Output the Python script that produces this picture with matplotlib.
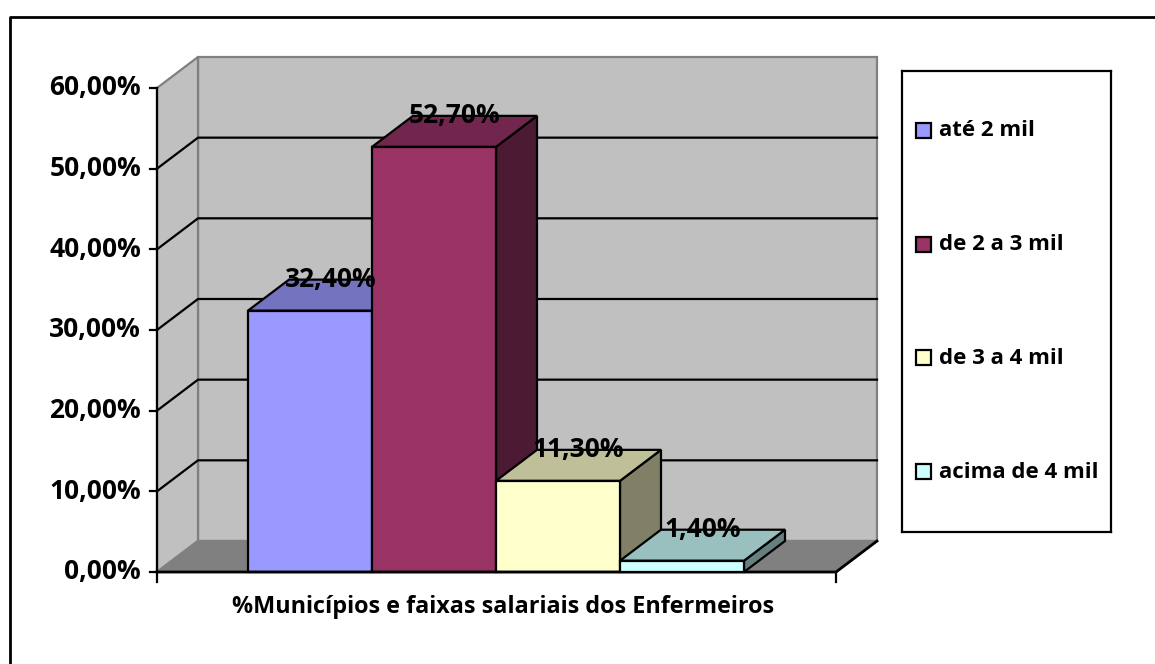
import numpy as np
import matplotlib.pyplot as plt
from matplotlib.patches import Polygon, Rectangle
from matplotlib.lines import Line2D
from matplotlib.colors import to_rgb

plt.rcParams['font.family'] = ['Open Sans', 'DejaVu Sans']
plt.rcParams['font.weight'] = 'bold'

# data
categories = ['até 2 mil', 'de 2 a 3 mil', 'de 3 a 4 mil', 'acima de 4 mil']
values = [32.4, 52.7, 11.3, 1.4]
value_labels = ['32,40%', '52,70%', '11,30%', '1,40%']
y_ticks = [0, 10, 20, 30, 40, 50, 60]
y_tick_labels = ['0,00%', '10,00%', '20,00%', '30,00%', '40,00%', '50,00%', '60,00%']
title = '%Municípios e faixas salariais dos Enfermeiros'
colors = ['#9999FF', '#993366', '#FFFFCC', '#CCFFFF']

W, H = 1155, 664
fig = plt.figure(figsize=(W / 100, H / 100), dpi=100)
ax = fig.add_axes([0, 0, 1, 1])
ax.set_axis_off()

# scale: one category = 124 px, 1% = 8.067 px, first bar left edge at px 248, 0% at py 572
ux, uy = 124.0, 8.067
x0px, y0px = 248.0, 572.0
ax.set_xlim(-0.5 - x0px / ux, -0.5 + (W - x0px) / ux)
ax.set_ylim(-(H - y0px) / uy, y0px / uy)

dx, dy = 41 / ux, 31 / uy          # 3d depth offset
XL, XR = -0.5 - 91 / ux, 3.5 + 92 / ux
ymax = y_ticks[-1]

def shade(c, f):
    return tuple(np.array(to_rgb(c)) * f)

# walls and floor
ax.add_patch(Polygon([(XL + dx, dy), (XR + dx, dy), (XR + dx, ymax + dy), (XL + dx, ymax + dy)],
                     closed=True, fc='#C0C0C0', ec='#808080', lw=1.6, zorder=1))
ax.add_patch(Polygon([(XL, 0), (XL + dx, dy), (XL + dx, ymax + dy), (XL, ymax)],
                     closed=True, fc='#C0C0C0', ec='#808080', lw=1.6, zorder=1))
ax.add_patch(Polygon([(XL, 0), (XR, 0), (XR + dx, dy), (XL + dx, dy)],
                     closed=True, fc='#808080', ec='#808080', lw=1.6, zorder=1))

# gridlines
for t in y_ticks[1:-1]:
    ax.plot([XL, XL + dx, XR + dx], [t, t + dy, t + dy], color='black', lw=1.6, zorder=2)

# axes lines
ax.plot([XL, XL], [0, ymax], color='black', lw=1.6, zorder=6)
ax.plot([XL, XR, XR + dx], [0, 0, dy], color='black', lw=2, zorder=6)
for x in [XL, XR]:
    ax.plot([x, x], [0, -1.2], color='black', lw=1.6, zorder=6)
for t, lab in zip(y_ticks, y_tick_labels):
    ax.plot([XL - 7 / ux, XL], [t, t], color='black', lw=1.6, zorder=6)
    ax.text(XL - 16 / ux, t, lab, ha='right', va='center', fontsize=19, fontweight='bold')

# bars
for i, (v, c) in enumerate(zip(values, colors)):
    a, b = i - 0.5, i + 0.5
    z = 3 + i
    ax.add_patch(Polygon([(b, 0), (b + dx, dy), (b + dx, v + dy), (b, v)],
                         closed=True, fc=shade(c, 0.5), ec='black', lw=1.6, zorder=z))
    ax.add_patch(Polygon([(a, v), (b, v), (b + dx, v + dy), (a + dx, v + dy)],
                         closed=True, fc=shade(c, 0.75), ec='black', lw=1.6, zorder=z))
    ax.add_patch(Rectangle((a, 0), 1, v, fc=c, ec='black', lw=1.6, zorder=z))

for i, (v, lab) in enumerate(zip(values, value_labels)):
    ax.text(i + dx / 2, v + dy, lab, ha='center', va='center', fontsize=19,
            fontweight='bold', zorder=10)

ax.text(-0.5 + (503 - x0px) / ux, -(607 - y0px) / uy, title, ha='center', va='center',
        fontsize=16.8, fontweight='bold')

# legend box
lax = fig.add_axes([902 / W, 1 - 532 / H, (1111 - 902) / W, (532 - 71) / H])
lax.set_xlim(902, 1111)
lax.set_ylim(532, 71)
lax.set_xticks([])
lax.set_yticks([])
for s in lax.spines.values():
    s.set_linewidth(1.6)
for i, (cat, c) in enumerate(zip(categories, colors)):
    yc = 131 + i * 113.7
    lax.add_patch(Rectangle((916, yc - 8), 15, 15, fc=c, ec='black', lw=1.6))
    lax.text(939, yc, cat, ha='left', va='center', fontsize=16, fontweight='bold')

# outer frame
fig.add_artist(Line2D([10 / W, 10 / W, 1], [0, 1 - 17 / H, 1 - 17 / H],
                      transform=fig.transFigure, color='black', lw=2))

fig.savefig('out.png', dpi=100)
